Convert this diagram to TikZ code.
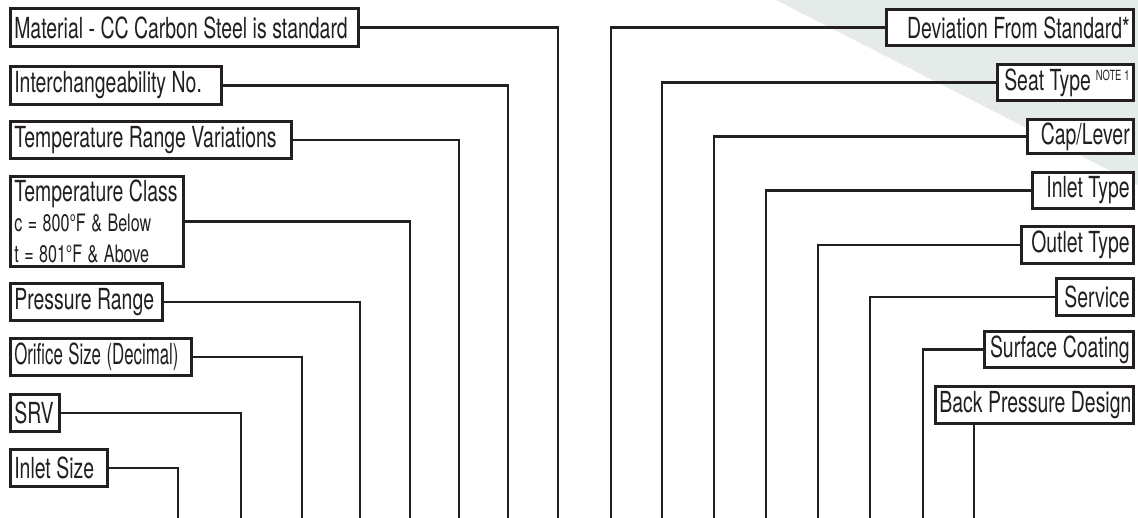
\documentclass[tikz,border=0pt]{standalone}
\usepackage{fontspec}
\setmainfont{TeX Gyre Heros}[FakeStretch=0.67]
\newfontfamily\narrowfont{TeX Gyre Heros}[FakeStretch=0.58]
\definecolor{bandgray}{RGB}{229,235,232}
\definecolor{inkblack}{RGB}{35,31,32}
\newcommand{\tagtext}[1]{\spaceskip=5.5pt\relax\mbox{#1}}

\begin{document}
\begin{tikzpicture}[x=1pt,y=-1pt,
    tag/.style={draw=inkblack,text=inkblack,line width=2.6pt,fill=white,
        inner xsep=4pt,inner ysep=0pt,font=\fontsize{29}{31}\selectfont},
    lead/.style={draw=inkblack,line width=2.6pt}]
    \def\picw{1138}
    \def\pich{518}
    \useasboundingbox (0,0) rectangle (\picw,\pich);

    % grey band behind the right column
    \fill[bandgray] (776,0) -- (\picw,0) -- (\picw,185) -- cycle;

    % left column: name/top/bottom/right edge/drop x/label
    \foreach \nm/\tagtop/\tagbot/\tagright/\tagdrop/\txt in {%
        mat/7/48/360/558/{Material - CC Carbon Steel is standard},%
        inter/65/106/223/508/{Interchangeability No.},%
        trv/120/160/293/459/{Temperature Range Variations},%
        press/282/322/164/360/{Pressure Range},%
        orif/337/377/193/302/{\narrowfont Orifice Size (Decimal)},%
        srv/393/433/61/241/{SRV},%
        insz/448/488/109/178/{Inlet Size}%
    }{
        \pgfmathsetmacro{\tw}{\tagright-9-10.6}
        \pgfmathsetmacro{\bh}{\tagbot-\tagtop-2.6}
        \node[tag,anchor=north west,align=left,text width=\tw pt,
            minimum height=\bh pt] (\nm) at (9,\tagtop) {\tagtext{\txt}};
        \coordinate (\nm-end) at (\tagdrop,\pich);
        \draw[lead] (\nm.east) -| (\nm-end);
    }

    \node[tag,anchor=north west,align=left,text width=165pt,
        minimum height=90.4pt] (tclass) at (9,175)
        {\tagtext{Temperature Class}\\[2pt]\fontsize{24}{28}\selectfont
         \tagtext{c = 800°F \& Below}\\\tagtext{t = 801°F \& Above}};
    \coordinate (tclass-end) at (410,\pich);
    \draw[lead] (tclass.east) -| (tclass-end);

    % right column: name/top/bottom/left edge/drop x/label
    \foreach \nm/\tagtop/\tagbot/\tagleft/\tagdrop/\txt in {%
        dev/8/47/885/611/{Deviation From Standard*},%
        seat/63/102/996/662/{Seat Type\,\raisebox{10pt}{\fontsize{14}{14}\selectfont NOTE\kern3pt 1}},%
        cap/118/155/1026/714/{Cap/Lever},%
        inty/171/210/1031/766/{Inlet Type},%
        outy/225/265/1020/818/{Outlet Type},%
        serv/277/317/1055/870/{Service},%
        surf/330/369/983/923/{Surface Coating}%
    }{
        \pgfmathsetmacro{\tw}{1135-\tagleft-10.6}
        \pgfmathsetmacro{\bh}{\tagbot-\tagtop-2.6}
        \node[tag,anchor=north east,align=right,text width=\tw pt,
            minimum height=\bh pt] (\nm) at (1135,\tagtop) {\tagtext{\txt}};
        \coordinate (\nm-end) at (\tagdrop,\pich);
        \draw[lead] (\nm.west) -| (\nm-end);
    }

    \node[tag,anchor=north east,align=right,text width=190.4pt,
        minimum height=37.4pt] (back) at (1135,385) {\tagtext{Back Pressure Design}};
    \coordinate (back-end) at (974,\pich);
    \draw[lead] (back.south -| back-end) -- (back-end);
\end{tikzpicture}
\end{document}
